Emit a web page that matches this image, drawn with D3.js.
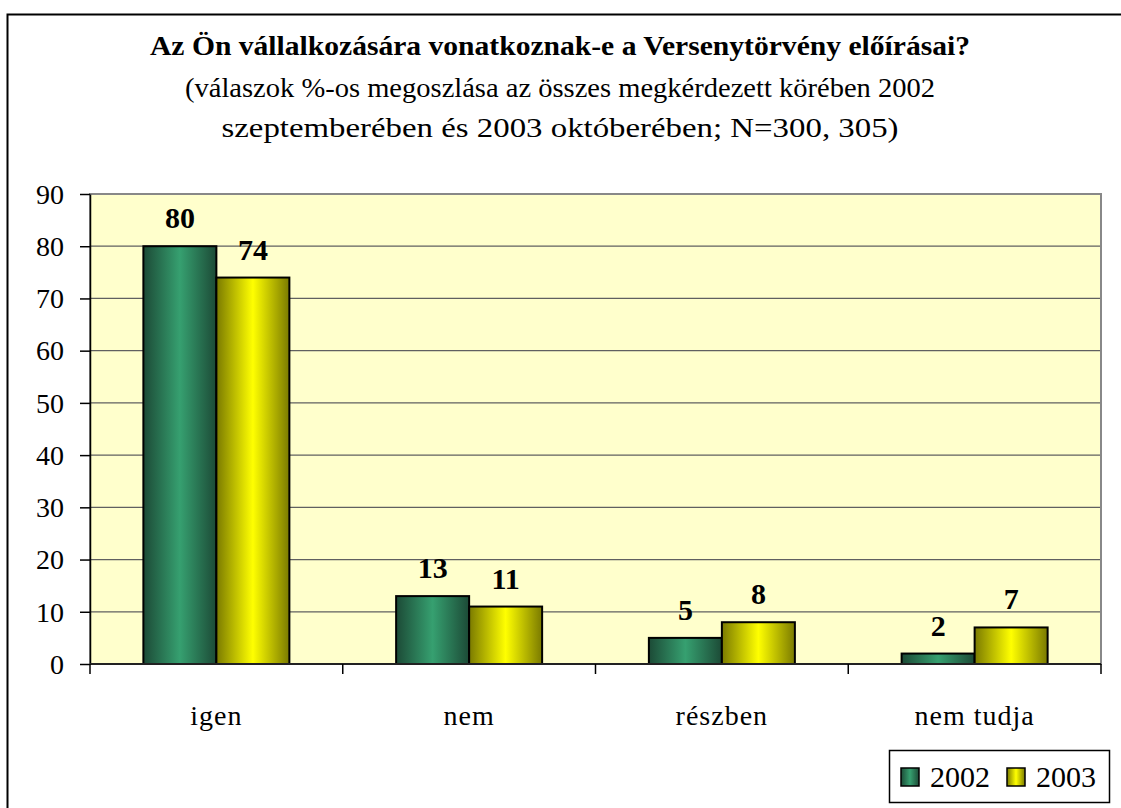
<!DOCTYPE html>
<html>
<head>
<meta charset="utf-8">
<script src="https://cdn.jsdelivr.net/npm/d3@7"></script>
<style>
  html, body { margin: 0; padding: 0; background: #fff; overflow: hidden; }
  #canvas { display: block; }
  svg text { font-family: "Liberation Serif", "Times New Roman", Tinos, "DejaVu Serif", serif; }
</style>
</head>
<body>
<svg id="canvas"></svg>
<script>
const categories = ["igen", "nem", "részben", "nem tudja"];
const seriesNames = ["2002", "2003"];
const values2002 = [80, 13, 5, 2];
const values2003 = [74, 11, 8, 7];
const yTicks = [0, 10, 20, 30, 40, 50, 60, 70, 80, 90];
const titleLines = [
    "Az Ön vállalkozására vonatkoznak-e a Versenytörvény előírásai?",
    "(válaszok %-os megoszlása az összes megkérdezett körében 2002",
    "szeptemberében és 2003 októberében; N=300, 305)"
];

const width = 1121;
const height = 808;
const margin = {top: 194, right: 20, bottom: 144, left: 90};
const innerWidth = 1101 - margin.left;
const innerHeight = 664 - margin.top;
const serif = '"Liberation Serif", "Times New Roman", Tinos, "DejaVu Serif", serif';

const svg = d3.select("#canvas").attr("width", width).attr("height", height);

// outer chart frame: only its left and top edges fall inside the picture
svg.append("path")
    .attr("d", `M7.5,${height} V14.5 H${width}`)
    .attr("fill", "none").attr("stroke", "#000").attr("stroke-width", 2);

const defs = svg.append("defs");
function barGradient(id, edge, mid) {
    const g = defs.append("linearGradient").attr("id", id).attr("x1", "0").attr("x2", "1").attr("y1", "0").attr("y2", "0");
    g.append("stop").attr("offset", "0%").attr("stop-color", edge);
    g.append("stop").attr("offset", "50%").attr("stop-color", mid);
    g.append("stop").attr("offset", "100%").attr("stop-color", edge);
}
barGradient("g2002", "#1c4a36", "#36a070");
barGradient("g2003", "#7a7a00", "#ffff00");
const fills = {"2002": "url(#g2002)", "2003": "url(#g2003)"};

// titles
const titleY = [55, 97, 137];
const titleW = [820, 750, 677];
svg.append("g").selectAll("text")
    .data(titleLines)
    .join("text")
    .attr("font-family", serif)
    .attr("x", 560).attr("y", (d, i) => titleY[i])
    .attr("text-anchor", "middle")
    .attr("textLength", (d, i) => titleW[i])
    .attr("lengthAdjust", "spacingAndGlyphs")
    .style("font-size", "28px")
    .style("font-weight", (d, i) => i === 0 ? "bold" : "normal")
    .text(d => d);

const mainGroup = svg.append("g").attr("transform", `translate(${margin.left}, ${margin.top})`);

const xScale = d3.scaleBand().domain(categories).range([0, innerWidth]);
const xInner = d3.scalePoint().domain(seriesNames).range([0, 1]);
const yScale = d3.scaleLinear().domain([0, 90]).range([innerHeight, 0]);
const barWidth = 73;

mainGroup.append("rect")
    .attr("width", innerWidth).attr("height", innerHeight)
    .attr("fill", "#ffffcc");

// grid lines
mainGroup.selectAll("line.grid")
    .data(yTicks.filter(t => t > 0))
    .join("line")
    .attr("x1", 0).attr("x2", innerWidth)
    .attr("y1", d => yScale(d)).attr("y2", d => yScale(d))
    .attr("stroke", "#606060").attr("stroke-width", 1.3);

mainGroup.append("rect")
    .attr("width", innerWidth).attr("height", innerHeight)
    .attr("fill", "none").attr("stroke", "#888").attr("stroke-width", 2);

const rows = [];
categories.forEach((c, i) => {
    rows.push({cat: c, series: "2002", value: values2002[i]});
    rows.push({cat: c, series: "2003", value: values2003[i]});
});

const barX = d => xScale(d.cat) + xScale.bandwidth() / 2 + (xInner(d.series) - 1) * barWidth;

mainGroup.selectAll("rect.bar")
    .data(rows)
    .join("rect")
    .attr("class", "bar")
    .attr("x", barX)
    .attr("y", d => yScale(d.value))
    .attr("width", barWidth)
    .attr("height", d => innerHeight - yScale(d.value))
    .attr("fill", d => fills[d.series])
    .attr("stroke", "#000").attr("stroke-width", 2);

mainGroup.selectAll("text.label")
    .data(rows)
    .join("text")
    .attr("font-family", serif)
    .attr("x", d => barX(d) + barWidth / 2)
    .attr("y", d => yScale(d.value) - 18)
    .attr("text-anchor", "middle")
    .style("font-size", "30px").style("font-weight", "bold")
    .text(d => d.value);

// y axis
const yGroup = svg.append("g").attr("transform", `translate(${margin.left}, ${margin.top})`);
yGroup.call(d3.axisLeft(yScale).tickValues(yTicks).tickSize(10).tickSizeOuter(0).tickPadding(16))
    .call(g => g.select(".domain").attr("stroke", "#000").attr("stroke-width", 1.5))
    .call(g => g.selectAll(".tick line").attr("stroke", "#000").attr("stroke-width", 1.5))
    .call(g => g.selectAll(".tick text")
        .attr("font-family", serif)
        .style("font-size", "28px").attr("fill", "#000").attr("dy", "0.33em"));

// x axis
const xGroup = svg.append("g").attr("transform", `translate(${margin.left}, ${margin.top + innerHeight})`);
xGroup.append("line").attr("x1", 0).attr("x2", innerWidth)
    .attr("stroke", "#222").attr("stroke-width", 2);
xGroup.selectAll("line.tick")
    .data(categories)
    .join("line")
    .attr("x1", d => xScale(d) + xScale.bandwidth()).attr("x2", d => xScale(d) + xScale.bandwidth())
    .attr("y1", 0).attr("y2", 10)
    .attr("stroke", "#000").attr("stroke-width", 1.5);
xGroup.append("line").attr("x1", 0).attr("x2", 0).attr("y1", 0).attr("y2", 10)
    .attr("stroke", "#000").attr("stroke-width", 1.5);
xGroup.selectAll("text.cat")
    .data(categories)
    .join("text")
    .attr("font-family", serif)
    .attr("x", d => xScale(d) + xScale.bandwidth() / 2)
    .attr("y", 61)
    .attr("text-anchor", "middle")
    .style("font-size", "28px")
    .style("letter-spacing", "1px")
    .text(d => d);

// legend
const legendGroup = svg.append("g").attr("transform", "translate(889, 750)");
legendGroup.append("rect").attr("x", 0.5).attr("y", 0.5).attr("width", 220).attr("height", 52)
    .attr("fill", "#fff").attr("stroke", "#000").attr("stroke-width", 1.5);
const legendX = d3.scalePoint().domain(seriesNames).range([12, 118]);
legendGroup.selectAll("rect.sw")
    .data(seriesNames)
    .join("rect")
    .attr("x", d => legendX(d)).attr("y", 18)
    .attr("width", 18).attr("height", 18)
    .attr("fill", d => fills[d]).attr("stroke", "#000").attr("stroke-width", 1.5);
legendGroup.selectAll("text.lg")
    .data(seriesNames)
    .join("text")
    .attr("font-family", serif)
    .attr("x", d => legendX(d) + 29).attr("y", 37)
    .style("font-size", "30px")
    .text(d => d);
</script>
</body>
</html>
